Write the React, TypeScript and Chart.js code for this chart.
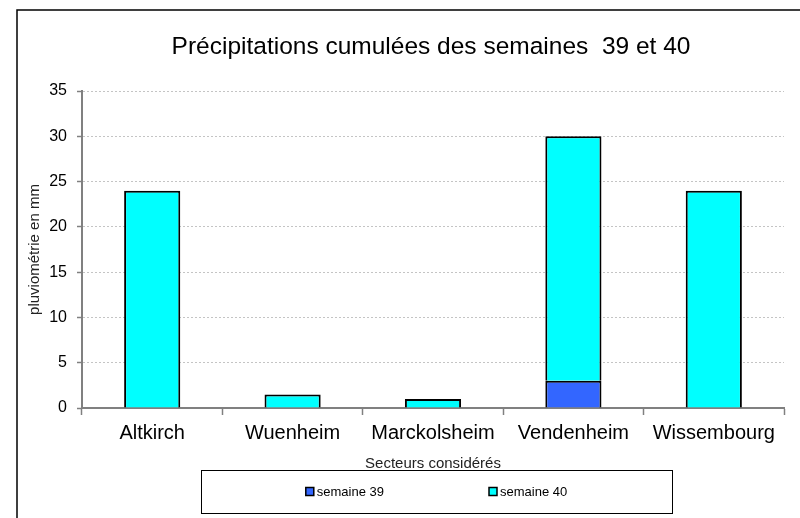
import React, { useEffect, useRef } from "react";
import { Chart, registerables } from "chart.js";

Chart.register(...registerables);

const chartTitle = "Précipitations cumulées des semaines  39 et 40";
const categories = ["Altkirch", "Wuenheim", "Marckolsheim", "Vendenheim", "Wissembourg"];
const seriesLabels = ["semaine 39", "semaine 40"];
const semaine39 = [0, 0, 0, 3, 0];
const semaine40 = [24, 1.5, 1, 27, 24];
const seriesColors = ["#3366FF", "#00FFFF"];
const yMin = 0;
const yMax = 35;
const yStep = 5;
const yAxisTitle = "pluviométrie en mm";
const xAxisTitle = "Secteurs considérés";

const FONT = '"Liberation Sans", Arial, sans-serif';

const decorPlugin = {
  id: "decor",
  beforeDraw(chart: any) {
    const ctx = chart.ctx;
    ctx.save();
    ctx.strokeStyle = "#000";
    ctx.lineWidth = 1.5;
    ctx.beginPath();
    ctx.moveTo(17, chart.height);
    ctx.lineTo(17, 10);
    ctx.lineTo(chart.width, 10);
    ctx.stroke();
    ctx.restore();
  },
  afterDraw(chart: any) {
    const { ctx, chartArea } = chart;
    const cx = (chartArea.left + chartArea.right) / 2;
    ctx.save();
    // title
    ctx.font = `24.5px ${FONT}`;
    ctx.fillStyle = "#000";
    ctx.textAlign = "center";
    ctx.textBaseline = "middle";
    ctx.fillText(chartTitle, cx - 2, 47);

    // legend box
    const boxL = 201, boxT = 470, boxR = 672, boxB = 513;
    ctx.strokeStyle = "#000";
    ctx.lineWidth = 1;
    ctx.strokeRect(boxL + 0.5, boxT + 0.5, boxR - boxL, boxB - boxT);

    ctx.font = `13px ${FONT}`;
    ctx.textAlign = "left";
    const datasets = chart.data.datasets;
    const marker = 8;
    const gap = 3;
    const spacing = 105;
    const widths = datasets.map((d: any) => marker + gap + ctx.measureText(d.label).width);
    const total = widths.reduce((a: number, b: number) => a + b, 0) + spacing * (datasets.length - 1);
    let x = (boxL + boxR) / 2 - total / 2;
    const cy = (boxT + boxB) / 2;
    datasets.forEach((d: any, i: number) => {
      ctx.fillStyle = d.backgroundColor;
      ctx.fillRect(x, cy - marker / 2, marker, marker);
      ctx.strokeStyle = "#000";
      ctx.lineWidth = 1.5;
      ctx.strokeRect(x, cy - marker / 2, marker, marker);
      ctx.fillStyle = "#000";
      ctx.fillText(d.label, x + marker + gap, cy + 1);
      x += widths[i] + spacing;
    });
    ctx.restore();
  },
};

export default function App() {
  const canvasRef = useRef<HTMLCanvasElement | null>(null);

  useEffect(() => {
    if (!canvasRef.current) return;
    const chart = new Chart(canvasRef.current, {
      type: "bar",
      data: {
        labels: categories,
        datasets: [
          {
            label: seriesLabels[0],
            data: semaine39,
            backgroundColor: seriesColors[0],
            borderColor: "#000",
            borderWidth: 2,
            categoryPercentage: 1,
            barPercentage: 0.4,
          },
          {
            label: seriesLabels[1],
            data: semaine40,
            backgroundColor: seriesColors[1],
            borderColor: "#000",
            borderWidth: 2,
            categoryPercentage: 1,
            barPercentage: 0.4,
          },
        ],
      },
      options: {
        animation: false,
        responsive: true,
        maintainAspectRatio: false,
        layout: { padding: { left: 17, right: 16, top: 91, bottom: 43 } },
        plugins: {
          legend: { display: false },
          title: { display: false },
          tooltip: { enabled: false },
        },
        scales: {
          x: {
            stacked: true,
            grid: {
              display: true,
              drawOnChartArea: false,
              offset: true,
              tickLength: 7,
              tickColor: "#808080",
              tickWidth: 1.5,
            },
            border: { display: true, color: "#808080", width: 2 },
            ticks: {
              color: "#000",
              padding: 6,
              font: { family: FONT, size: 20 },
              maxRotation: 0,
              autoSkip: false,
            },
            title: {
              display: true,
              text: xAxisTitle,
              color: "#222",
              font: { family: FONT, size: 15 },
              padding: { top: 4, bottom: 2 },
            },
          },
          y: {
            stacked: true,
            min: yMin,
            max: yMax,
            afterFit: (scale: any) => {
              scale.width = 65;
            },
            grid: {
              color: "#c4c4c4",
              lineWidth: 1,
              tickLength: 5,
              tickColor: "#808080",
              tickWidth: 1.5,
              drawOnChartArea: true,
            },
            border: { display: true, color: "#808080", width: 2, dash: [2, 2] },
            ticks: {
              stepSize: yStep,
              color: "#000",
              padding: 10,
              font: { family: FONT, size: 16 },
            },
            title: {
              display: true,
              text: yAxisTitle,
              color: "#222",
              font: { family: FONT, size: 15 },
              padding: { top: 9, bottom: 0 },
            },
          },
        },
      },
      plugins: [decorPlugin],
    });
    return () => chart.destroy();
  }, []);

  return (
    <div style={{ position: "absolute", left: 0, top: 0, width: 800, height: 518, background: "#fff" }}>
      <canvas ref={canvasRef} />
    </div>
  );
}
